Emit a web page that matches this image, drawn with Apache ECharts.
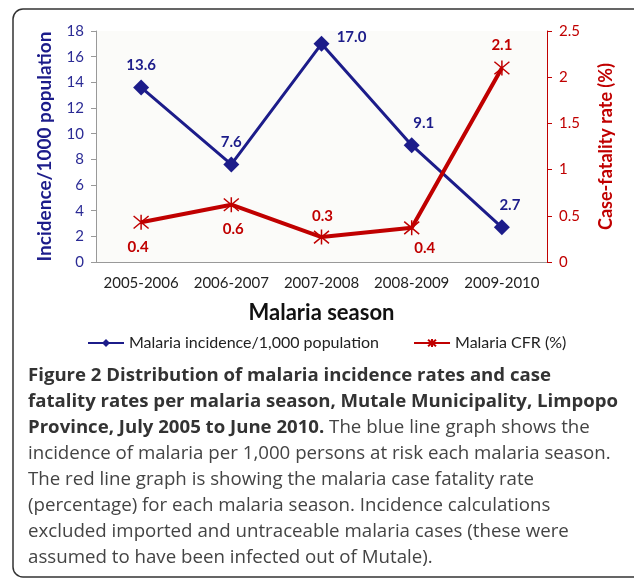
<!DOCTYPE html>
<html>
<head>
<meta charset="utf-8">
<script src="https://cdn.jsdelivr.net/npm/echarts@6/dist/echarts.min.js"></script>
<style>
  html, body { margin: 0; padding: 0; background: #fff; }
  #chart { width: 634px; height: 581px; }
</style>
</head>
<body>
<div id="chart"></div>
<script>
// 数据
var seasons = ['2005-2006', '2006-2007', '2007-2008', '2008-2009', '2009-2010'];
var incidence = [13.6, 7.6, 17.0, 9.1, 2.7];
var cfr = [0.43, 0.62, 0.27, 0.37, 2.1];
var cfrLabels = ['0.4', '0.6', '0.3', '0.4', '2.1'];

// 标签偏移 (每个点)
var incOffsets = [[0, -2], [0, -2], [30, 14], [12, -2], [8, -2]];
var cfrPos = ['bottom', 'bottom', 'top', 'bottom', 'top'];
var cfrOffsets = [[-3, 4], [2, 4], [1, 0], [13, 0], [0, -2]];

var caption = [
  [['b', 'Figure 2 Distribution of malaria incidence rates and case']],
  [['b', 'fatality rates per malaria season, Mutale Municipality, Limpopo']],
  [['b', 'Province, July 2005 to June 2010.'], ['n', ' The blue line graph shows the']],
  [['n', 'incidence of malaria per 1,000 persons at risk each malaria season.']],
  [['n', 'The red line graph is showing the malaria case fatality rate']],
  [['n', '(percentage) for each malaria season. Incidence calculations']],
  [['n', 'excluded imported and untraceable malaria cases (these were']],
  [['n', 'assumed to have been infected out of Mutale).']]
];

var BLUE = '#1c1c8a';
var RED = '#c00000';
var chartFont = 'Lato';
var starPath = 'path://M0,0L10,10M10,0L0,10M5,-1L5,11';

var myChart = echarts.init(document.getElementById('chart'));

var graphics = [{
  type: 'rect',
  shape: { x: 13, y: 9, width: 640, height: 568, r: 10 },
  style: { fill: 'none', stroke: '#333', lineWidth: 1.5 },
  silent: true
}];
caption.forEach(function (line, i) {
  var txt = line.map(function (p) { return '{' + p[0] + '|' + p[1] + '}'; }).join('');
  graphics.push({
    type: 'text',
    left: 28,
    top: 366 + i * 26,
    style: {
      text: txt,
      rich: {
        b: { fontFamily: 'Open Sans', fontWeight: 'bold', fontSize: 18.6, fill: '#333' },
        n: { fontFamily: 'Open Sans', fontSize: 18.7, fill: '#444' }
      }
    }
  });
});

var option = {
  animation: false,
  backgroundColor: '#fff',
  textStyle: { fontFamily: chartFont },
  grid: { left: 96, right: 87, top: 31, bottom: 319, backgroundColor: '#fbfbf9', show: true, borderWidth: 0 },
  legend: {
    top: 330,
    left: 82,
    itemGap: 34,
    itemWidth: 36,
    itemHeight: 10,
    textStyle: { fontFamily: chartFont, fontSize: 16, color: '#222' },
    data: ['Malaria incidence/1,000 population', 'Malaria CFR (%)']
  },
  xAxis: {
    type: 'category',
    data: seasons,
    name: 'Malaria season',
    nameLocation: 'middle',
    nameGap: 40,
    nameTextStyle: { fontFamily: chartFont, fontSize: 22, fontWeight: 'bold', color: '#111' },
    axisLine: { lineStyle: { color: '#999' } },
    axisTick: { alignWithLabel: false, length: 5, lineStyle: { color: '#999' } },
    axisLabel: { interval: 0, fontSize: 15, color: '#222', margin: 14 }
  },
  yAxis: [{
    type: 'value',
    min: 0, max: 18, interval: 2,
    name: 'Incidence/1000 population',
    nameLocation: 'middle',
    nameGap: 42,
    nameTextStyle: { fontSize: 19, fontWeight: 'bold', color: BLUE },
    axisLine: { show: true, lineStyle: { color: '#999' } },
    axisTick: { show: true, length: 5, lineStyle: { color: '#999' } },
    splitLine: { show: false },
    axisLabel: { fontSize: 15, color: '#2b2b95', margin: 12 }
  }, {
    type: 'value',
    min: 0, max: 2.5, interval: 0.5,
    name: 'Case-fatality rate (%)',
    nameLocation: 'middle',
    nameGap: 50,
    nameRotate: 90,
    nameTextStyle: { fontSize: 18, fontWeight: 'bold', color: RED },
    axisLine: { show: true, lineStyle: { color: RED } },
    axisTick: { show: true, length: 5, lineStyle: { color: RED } },
    splitLine: { show: false },
    axisLabel: { fontSize: 15, color: RED, margin: 12 }
  }],
  series: [{
    name: 'Malaria incidence/1,000 population',
    type: 'line',
    yAxisIndex: 0,
    symbol: 'diamond',
    symbolSize: 16,
    lineStyle: { color: BLUE, width: 3 },
    itemStyle: { color: BLUE },
    data: incidence.map(function (v, i) {
      return {
        value: v,
        label: {
          show: true,
          position: 'top',
          offset: incOffsets[i],
          formatter: v.toFixed(1),
          color: BLUE, fontWeight: 'bold', fontSize: 15
        }
      };
    })
  }, {
    name: 'Malaria CFR (%)',
    type: 'line',
    yAxisIndex: 1,
    symbol: starPath,
    symbolSize: 15,
    lineStyle: { color: RED, width: 4 },
    itemStyle: { color: RED, borderColor: RED, borderWidth: 1.5 },
    data: cfr.map(function (v, i) {
      return {
        value: v,
        label: {
          show: true,
          position: cfrPos[i],
          offset: cfrOffsets[i],
          formatter: cfrLabels[i],
          color: RED, fontWeight: 'bold', fontSize: 15
        }
      };
    })
  }],
  graphic: graphics
};

myChart.setOption(option, true);
window.addEventListener('resize', function () { myChart.resize(); });
</script>
</body>
</html>
